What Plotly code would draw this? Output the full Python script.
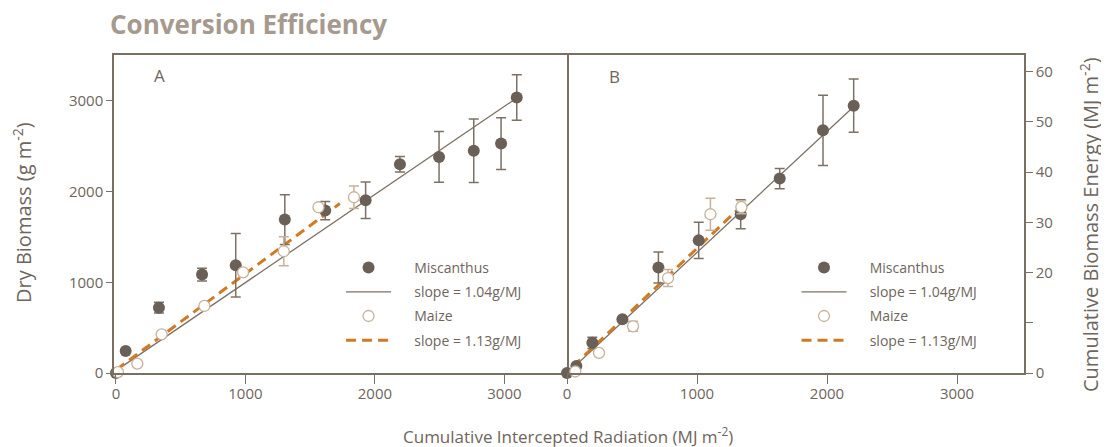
import plotly.graph_objects as go

# ---------------- data ----------------
# Panel A (dry biomass, g m-2 vs cumulative intercepted radiation, MJ m-2)
misc_A_x = [0, 75, 332, 665, 925, 1304, 1616, 1928, 2193, 2495, 2763, 2974, 3095]
misc_A_y = [0, 243, 720, 1085, 1188, 1691, 1790, 1904, 2301, 2382, 2449, 2529, 3037]
misc_A_err = [0, 0, 60, 70, 350, 275, 100, 200, 85, 280, 350, 285, 250]
maize_A_x = [15, 165, 353, 683, 982, 1296, 1564, 1838]
maize_A_y = [10, 103, 426, 739, 1110, 1342, 1827, 1937]
maize_A_err = [0, 0, 0, 0, 0, 160, 0, 125]
misc_fit_A_x = [3, 3070]
misc_fit_A_y = [29, 3007]
maize_fit_A_x = [3, 1729]
maize_fit_A_y = [37, 1868]

# Panel B (cumulative biomass energy, MJ m-2)
misc_B_x = [0, 72, 195, 426, 703, 1013, 1336, 1636, 1969, 2205]
misc_B_y = [0, 1.4, 6.0, 10.7, 21.0, 26.4, 31.6, 38.7, 48.3, 53.2]
misc_B_err = [0, 0, 1.1, 0, 3.1, 3.6, 2.9, 2.0, 7.0, 5.3]
maize_B_x = [64, 246, 508, 777, 1103, 1341]
maize_B_y = [0.3, 4.0, 9.3, 18.9, 31.6, 33.0]
maize_B_err = [0, 0, 1.0, 1.7, 3.2, 1.3]
misc_fit_B_x = [33, 2200]
misc_fit_B_y = [0.7, 52.9]
maize_fit_B_x = [46, 1328]
maize_fit_B_y = [1.3, 32.9]

x_ticks = [0, 1000, 2000, 3000]
yA_ticks = [0, 1000, 2000, 3000]
yB_ticks = [0, 10, 20, 30, 40, 50, 60]
yB_ticktext = ["0", "", "20", "30", "40", "50", "60"]

names = ["Miscanthus", "slope = 1.04g/MJ", "Maize", "slope = 1.13g/MJ"]

# ---------------- styles ----------------
DARK = "#6b6057"
LINE = "#7d7166"
TAN = "#c6b29b"
ORANGE = "#d27a22"
TEXT = "#6e655c"
AXIS = "#7b6e62"
FONT = "Open Sans"
pad = "\u00a0" * 5

W, H = 1101, 439  # page adds an 8px body margin

fig = go.Figure()


def add_panel(xa, ya, legend, mx, my, me, zx, zy, ze, fx, fy, gx, gy):
    fig.add_trace(go.Scatter(
        x=fx, y=fy, mode="lines", name=pad + names[1], xaxis=xa, yaxis=ya,
        line=dict(color=LINE, width=1.3), legend=legend, legendrank=2,
        legendgroup=legend + "b"))
    fig.add_trace(go.Scatter(
        x=gx, y=gy, mode="lines", name=pad + names[3], xaxis=xa, yaxis=ya,
        line=dict(color=ORANGE, width=3, dash="10px,6px"), legend=legend,
        legendrank=4, legendgroup=legend + "d"))
    fig.add_trace(go.Scatter(
        x=mx, y=my, mode="markers", name=pad + names[0], xaxis=xa, yaxis=ya,
        marker=dict(color=DARK, size=12),
        error_y=dict(type="data", array=me, color=LINE, thickness=1.5, width=5),
        legend=legend, legendrank=1, legendgroup=legend + "a", cliponaxis=False))
    fig.add_trace(go.Scatter(
        x=zx, y=zy, mode="markers", name=pad + names[2], xaxis=xa, yaxis=ya,
        marker=dict(color="white", size=11, line=dict(color=TAN, width=1.3)),
        error_y=dict(type="data", array=ze, color=TAN, thickness=1.5, width=5),
        legend=legend, legendrank=3, legendgroup=legend + "c", cliponaxis=False))


add_panel("x", "y", "legend", misc_A_x, misc_A_y, misc_A_err,
          maize_A_x, maize_A_y, maize_A_err,
          misc_fit_A_x, misc_fit_A_y, maize_fit_A_x, maize_fit_A_y)
add_panel("x2", "y2", "legend2", misc_B_x, misc_B_y, misc_B_err,
          maize_B_x, maize_B_y, maize_B_err,
          misc_fit_B_x, misc_fit_B_y, maize_fit_B_x, maize_fit_B_y)

split = 453 / 910
axis_common = dict(showline=True, linecolor=AXIS, linewidth=1.5,
                   showgrid=False, zeroline=False, ticks="outside",
                   tickcolor=AXIS, tickwidth=1.3,
                   tickfont=dict(family=FONT, size=15, color=TEXT))

legend_common = dict(font=dict(family=FONT, size=14, color=TEXT),
                     bgcolor="rgba(0,0,0,0)", tracegroupgap=3, itemwidth=45,
                     xanchor="left", yanchor="top", traceorder="grouped")

fig.update_layout(
    width=W, height=H,
    margin=dict(l=106, r=85, t=47, b=74),
    paper_bgcolor="white", plot_bgcolor="white",
    showlegend=True,
    title=dict(text="<b>Conversion Efficiency</b>", x=102 / W, xanchor="left",
               xref="container", y=1 - 17 / H, yanchor="middle", yref="container",
               font=dict(family=FONT, size=26, color="#a69a8f")),
    xaxis=dict(domain=[0, split], range=[-15, 3483], tickvals=x_ticks,
               ticklen=9, anchor="y", mirror=True, ticklabelstandoff=-3,
               **axis_common),
    yaxis=dict(domain=[0, 1], range=[0, 3505], tickvals=yA_ticks, ticklen=6,
               anchor="x", mirror=True, **axis_common),
    xaxis2=dict(domain=[split, 1], range=[0, 3515], tickvals=x_ticks,
                ticklen=9, anchor="y2", mirror=True, ticklabelstandoff=-3,
                **axis_common),
    yaxis2=dict(domain=[0, 1], range=[0, 63.3], tickvals=yB_ticks,
                ticktext=yB_ticktext, ticklen=7, anchor="x2", side="right",
                mirror=False, **axis_common),
    legend=dict(x=0.2495, y=0.3805, **legend_common),
    legend2=dict(x=0.750, y=0.3805, **legend_common),
    annotations=[
        dict(text="A", x=0.1015, y=0.934, xref="x domain", yref="y domain",
             xanchor="center", yanchor="middle",
             showarrow=False, font=dict(family=FONT, size=17, color=TEXT)),
        dict(text="B", x=0.103, y=0.931, xref="x2 domain", yref="y2 domain",
             xanchor="center", yanchor="middle",
             showarrow=False, font=dict(family=FONT, size=17, color=TEXT)),
        dict(text="Cumulative Intercepted Radiation (MJ m<sup>-2</sup>)",
             x=(560 - 106) / 910, y=(365 - 427) / 318, xref="paper", yref="paper",
             xanchor="center", yanchor="middle", showarrow=False,
             font=dict(family=FONT, size=17, color=TEXT)),
        dict(text="Dry Biomass (g m<sup>-2</sup>)", textangle=-90,
             x=(14 - 106) / 910, y=(365 - 205) / 318, xref="paper", yref="paper",
             xanchor="center", yanchor="middle", showarrow=False,
             font=dict(family=FONT, size=20, color=TEXT)),
        dict(text="Cumulative Biomass Energy (MJ m<sup>-2</sup>)", textangle=-90,
             x=(1081 - 106) / 910, y=(365 - 217) / 318, xref="paper", yref="paper",
             xanchor="center", yanchor="middle", showarrow=False,
             font=dict(family=FONT, size=20, color=TEXT)),
    ],
)

fig.write_html("out.html")
